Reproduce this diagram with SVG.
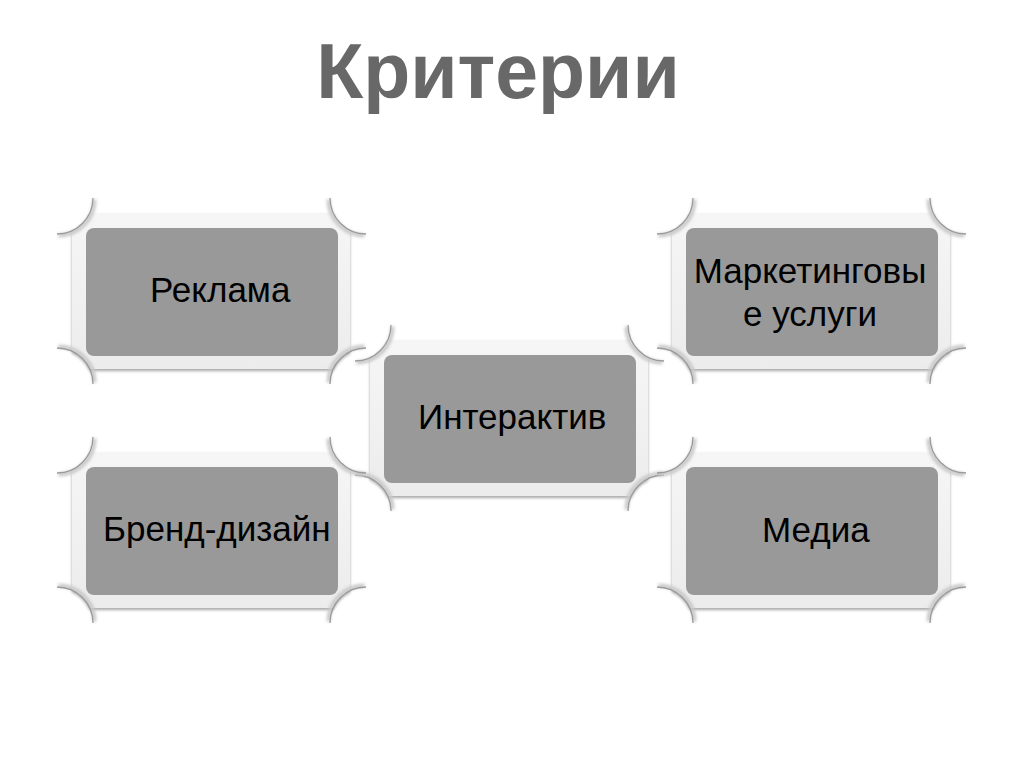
<svg xmlns="http://www.w3.org/2000/svg" width="1024" height="768" viewBox="0 0 1024 768">
  <defs>
    <style>
      .title { font-family: "Liberation Sans", Arial, sans-serif; font-weight: bold; font-size: 77px; fill: #686868; }
      .lbl { font-family: "Liberation Sans", Arial, sans-serif; font-size: 35px; fill: #000000; }
      .frame { fill: url(#frameGrad); filter: url(#drop); }
      .inner { fill: #999999; }
      .curl { fill: none; stroke: #9a9a9a; stroke-width: 1.3; }
      .curlsh { fill: none; stroke: #c8c8c8; stroke-width: 4; filter: url(#blur); }
    </style>
    <linearGradient id="frameGrad" x1="0" y1="0" x2="0" y2="1">
      <stop offset="0" stop-color="#f6f6f6"/>
      <stop offset="0.5" stop-color="#f1f1f1"/>
      <stop offset="1" stop-color="#ececec"/>
    </linearGradient>
    <filter id="drop" x="-10%" y="-10%" width="120%" height="130%">
      <feGaussianBlur in="SourceAlpha" stdDeviation="1.5"/>
      <feOffset dx="0" dy="2" result="o"/>
      <feComponentTransfer><feFuncA type="linear" slope="0.35"/></feComponentTransfer>
      <feMerge><feMergeNode/><feMergeNode in="SourceGraphic"/></feMerge>
    </filter>
    <filter id="blur" x="-20%" y="-20%" width="140%" height="140%">
      <feGaussianBlur stdDeviation="1.5"/>
    </filter>
    <g id="plaque">
      <path class="frame" d="M3.7,-15 L247.3,-15 A36,36 0 0 0 264,2.2 L264,123.8 A36,36 0 0 0 247.3,141 L3.7,141 A36,36 0 0 0 -14,123.3 L-14,2.7 A36,36 0 0 0 3.7,-15 Z"/>
      <path class="curlsh" transform="translate(1.5,1.5)" d="M7,-30 A36,36 0 0 1 -29,6"/>
      <path class="curlsh" transform="translate(-1.5,1.5)" d="M280,6 A36,36 0 0 1 244,-30"/>
      <path class="curlsh" transform="translate(-1.5,-1.5)" d="M244,156 A36,36 0 0 1 280,120"/>
      <path class="curlsh" transform="translate(1.5,-1.5)" d="M-29,120 A36,36 0 0 1 7,156"/>
      <path class="curl" d="M7,-30 A36,36 0 0 1 -29,6"/>
      <path class="curl" d="M280,6 A36,36 0 0 1 244,-30"/>
      <path class="curl" d="M244,156 A36,36 0 0 1 280,120"/>
      <path class="curl" d="M-29,120 A36,36 0 0 1 7,156"/>
      <rect class="inner" x="0" y="0" width="252" height="128" rx="8" ry="8"/>
    </g>
  </defs>
  <rect x="0" y="0" width="1024" height="768" fill="#ffffff"/>
  <text class="title" x="498" y="98" text-anchor="middle">Критерии</text>

  <g id="connectors"></g>

  <g id="node-reklama">
    <use href="#plaque" transform="translate(86,228)"/>
    <text class="lbl" x="150" y="302">Реклама</text>
  </g>
  <g id="node-marketing">
    <use href="#plaque" transform="translate(686,228)"/>
    <text class="lbl" x="810" y="283" text-anchor="middle">Маркетинговы</text>
    <text class="lbl" x="810" y="326" text-anchor="middle">е услуги</text>
  </g>
  <g id="node-interaktiv">
    <use href="#plaque" transform="translate(384,355)"/>
    <text class="lbl" x="418" y="429">Интерактив</text>
  </g>
  <g id="node-brand">
    <use href="#plaque" transform="translate(86,467)"/>
    <text class="lbl" x="103" y="541">Бренд-дизайн</text>
  </g>
  <g id="node-media">
    <use href="#plaque" transform="translate(686,467)"/>
    <text class="lbl" x="762" y="542">Медиа</text>
  </g>
</svg>
